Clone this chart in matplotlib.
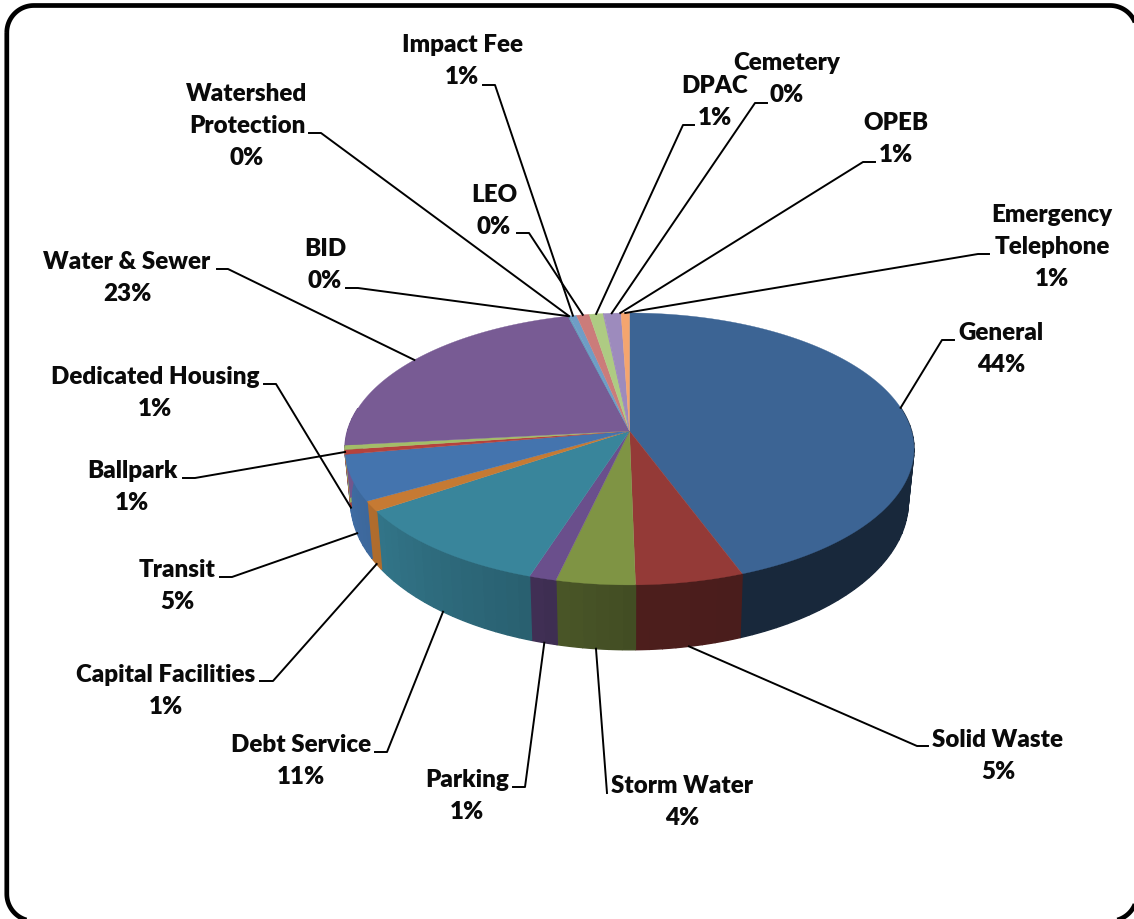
import numpy as np
import matplotlib
matplotlib.use("Agg")
import matplotlib.pyplot as plt
from matplotlib.patches import Polygon

# Fund shares, in percent, clockwise from twelve o'clock
funds = ["General", "Solid Waste", "Storm Water", "Parking", "Debt Service",
         "Capital Facilities", "Transit", "Ballpark", "Dedicated Housing",
         "Water & Sewer", "BID", "Watershed Protection", "LEO", "Impact Fee",
         "DPAC", "Cemetery", "OPEB", "Emergency Telephone"]
shares = [44.3, 5.4, 3.95, 1.36, 10.6, 1.2, 5.45, 0.55, 0.52, 22.7,
          0.05, 0.05, 0.45, 0.83, 0.89, 0.05, 1.1, 0.54]
top_colors = ["#3c6494", "#943a37", "#7f9444", "#6a4f8c", "#39859b", "#c67a33",
              "#4474ae", "#b5423c", "#a3bd68", "#785b94", "#5f8fb8", "#5f9fb8",
              "#6f9dc6", "#cb7c7a", "#aecb83", "#9a86b8", "#9d8bbd", "#f4a56f"]

# Label layout: wrapped lines, centre x, first baseline y
label_lines = [["General"], ["Solid Waste"], ["Storm Water"], ["Parking"],
               ["Debt Service"], ["Capital Facilities"], ["Transit"], ["Ballpark"],
               ["Dedicated Housing"], ["Water & Sewer"], ["BID"],
               ["Watershed", "Protection"], ["LEO"], ["Impact Fee"], ["DPAC"],
               ["Cemetery"], ["OPEB"], ["Emergency", "Telephone"]]
label_x = [1001, 998, 682, 467, 301, 166, 177, 132, 155, 127, 325, 247, 494, 462,
           715, 787, 896, 1052]
label_y = [340, 747, 793, 787, 752, 682, 577, 478, 384, 269, 256, 101, 202, 52,
           93, 70, 130, 222]
line_step = 32

# Leader lines: stub end x, knee x, knee y, rim used (0 top edge, 1 lower edge), angle nudge
stub_x = [954, 928, 607, 513, 375, 260, 220, 183, 264, 217, 346, 309, 483, 517, 694,
          767, 875, 989]
knee_x = [942, 917, 607, 525, 387, 273, 232, 195, 276, 228, 358, 321, 495, 529, 683,
          755, 863, 978]
knee_y = [340, 746, 793, 787, 752, 681, 577, 478, 384, 269, 288, 133, 85, 233, 125,
          103, 162, 254]
rim_used = [0, 1, 1, 1, 1, 1, 1, 0, 1, 0, 0, 0, 0, 0, 0, 0, 0, 0]
nudge_deg = [0, 0, 0, 0, 0, 0, 0, 0, -3, 0, 0, 0, 0, 0, 0, 1.9, 1.8, 0]

# Side shading factor against clockwise angle
shade_angle = [90, 159, 160, 180, 197, 198, 236, 262, 275]
shade_value = [0.40, 0.40, 0.50, 0.52, 0.60, 0.72, 0.88, 0.95, 0.95]

# Perspective geometry of the disc, in pixels
CX, CY = 629.5, 431.0
RX, RY, PERSP = 282.0, 133.6, 0.132
LOWER_DROP, LOWER_SX, LOWER_SY = 51.0, 0.98, 1.09


def top_rim(theta):
    """Project a clockwise angle (deg from top) onto the upper rim."""
    t = np.radians(theta)
    u, v = np.sin(t), -np.cos(t)
    w = 1 - PERSP * v
    return CX + RX * u / w, CY + RY * v / w


def low_rim(theta):
    x, y = top_rim(theta)
    return CX + LOWER_SX * (x - CX), CY + LOWER_DROP + LOWER_SY * (y - CY)


W, H = 1134, 919
fig = plt.figure(figsize=(W / 100, H / 100), dpi=100, facecolor="white")
ax = fig.add_axes([0, 0, 1, 1])
ax.set_xlim(0, W)
ax.set_ylim(H, 0)
ax.axis("off")

fracs = np.array(shares) / sum(shares)
edges = np.concatenate([[0], np.cumsum(fracs) * 360])
mids = (edges[:-1] + edges[1:]) / 2

# Outer side wall, split in strips so the shading can vary with angle; each strip
# keeps a thick edge of its own colour so no gaps appear between neighbours
for a0, a1, col in zip(edges[:-1], edges[1:], top_colors):
    lo, hi = max(a0, 80), min(a1, 280)
    if hi <= lo:
        continue
    base = np.array(matplotlib.colors.to_rgb(col))
    cuts = np.linspace(lo, hi, max(2, int((hi - lo) / 2.5) + 2))
    for c0, c1 in zip(cuts[:-1], cuts[1:]):
        th = np.linspace(c0, c1, 5)
        up = np.array(top_rim(th)).T
        dn = np.array(low_rim(th)).T[::-1]
        shade = np.interp((c0 + c1) / 2, shade_angle, shade_value)
        rgb = base * shade
        ax.add_patch(Polygon(np.vstack([up, dn]), closed=True, facecolor=rgb,
                             edgecolor=rgb, lw=1.0, zorder=2))

# Upper face
for a0, a1, col in zip(edges[:-1], edges[1:], top_colors):
    th = np.linspace(a0, a1, max(3, int(a1 - a0) * 2 + 2))
    pts = np.vstack([[CX, CY], np.array(top_rim(th)).T])
    ax.add_patch(Polygon(pts, closed=True, facecolor=col, edgecolor=col, lw=0.25, zorder=3))

# Leaders and labels, with the percentage taken from the share itself
font = dict(family="Lato", weight="heavy", fontsize=17.4, color="#0a0a0a",
            ha="center", va="baseline", zorder=6)
for i, name in enumerate(funds):
    angle = mids[i] + nudge_deg[i]
    ax_, ay_ = low_rim(angle) if rim_used[i] else top_rim(angle)
    ax.plot([ax_, knee_x[i], stub_x[i]], [ay_, knee_y[i], knee_y[i]], color="black",
            lw=1.4, solid_joinstyle="round", zorder=5)
    rows = label_lines[i] + [f"{round(shares[i])}%"]
    for j, row in enumerate(rows):
        ax.text(label_x[i], label_y[i] + j * line_step, row, **font)

# Rounded chart frame, running just past the right and bottom image edges
left, right, top, bottom, rad = 6.8, 1137.0, 5.5, 921.0, 27.0
arc = np.linspace(0, np.pi / 2, 24)
frame_x = np.concatenate([left + rad - rad * np.cos(arc), right - rad + rad * np.sin(arc),
                          right - rad + rad * np.cos(arc), left + rad - rad * np.sin(arc)])
frame_y = np.concatenate([top + rad - rad * np.sin(arc), top + rad - rad * np.cos(arc),
                          bottom - rad + rad * np.sin(arc), bottom - rad + rad * np.cos(arc)])
ax.fill(frame_x, frame_y, facecolor="none", edgecolor="black", lw=3.4, zorder=7)

fig.savefig("out.png", dpi=100, facecolor="white")
